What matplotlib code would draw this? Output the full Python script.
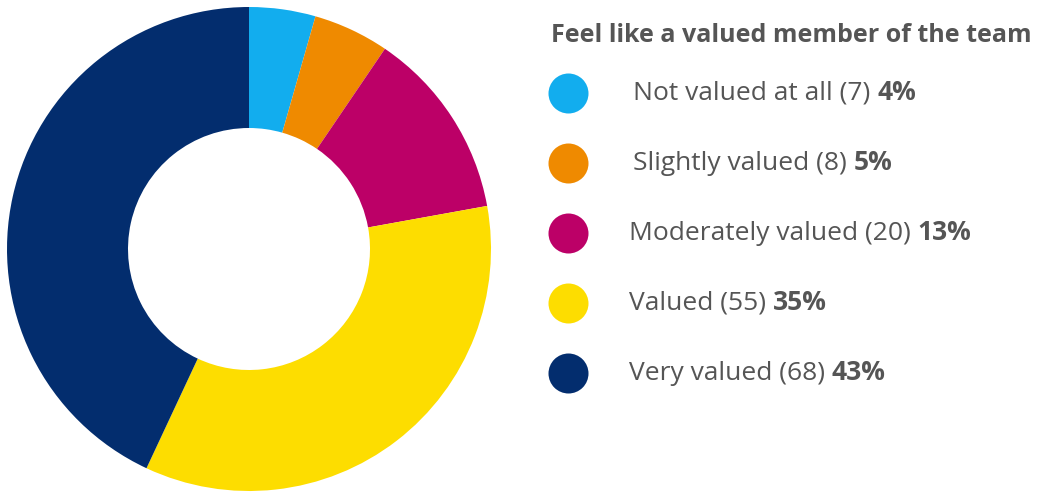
import matplotlib
matplotlib.use("Agg")
import matplotlib.pyplot as plt

# survey responses
labels = ["Not valued at all", "Slightly valued", "Moderately valued", "Valued", "Very valued"]
counts = [7, 8, 20, 55, 68]
colors = ["#12adee", "#ef8a00", "#bc0067", "#fddd00", "#032d6e"]
title = "Feel like a valued member of the team"

text_color = "#555555"
plt.rcParams["font.family"] = ["Open Sans", "DejaVu Sans"]

W, H = 1038, 493
fig = plt.figure(figsize=(W / 100, H / 100), dpi=100)
ax = fig.add_axes([0, 0, 1, 1])


def py(y):
    # pixel row (from top) -> data y
    return H - y


# donut, clockwise from 12 o'clock
ax.pie(counts, colors=colors, startangle=90, counterclock=False,
       center=(249, py(249)), radius=242,
       wedgeprops=dict(width=121, linewidth=0))
ax.set_xlim(0, W)
ax.set_ylim(0, H)
ax.set_aspect("equal")
ax.axis("off")

total = sum(counts)
ax.text(551, py(35), title, fontsize=18, fontweight="bold", color=text_color,
        va="center", ha="left")

renderer = fig.canvas.get_renderer()
text_x = [633, 633, 629, 629, 629]
for i, (lab, n, c) in enumerate(zip(labels, counts, colors)):
    y = py(93 + 70 * i)
    ax.scatter([568], [y], s=(40 * 0.72) ** 2, color=c, linewidths=0)
    t = ax.text(text_x[i], y, f"{lab} ({n}) ", fontsize=19, color=text_color,
                va="center", ha="left")
    bb = t.get_window_extent(renderer=renderer)
    x_end = ax.transData.inverted().transform((bb.x1, bb.y0))[0]
    ax.text(x_end, y, f"{round(100 * n / total)}%", fontsize=19,
            fontweight="bold", color=text_color, va="center", ha="left")

fig.savefig("out.png", dpi=100)
